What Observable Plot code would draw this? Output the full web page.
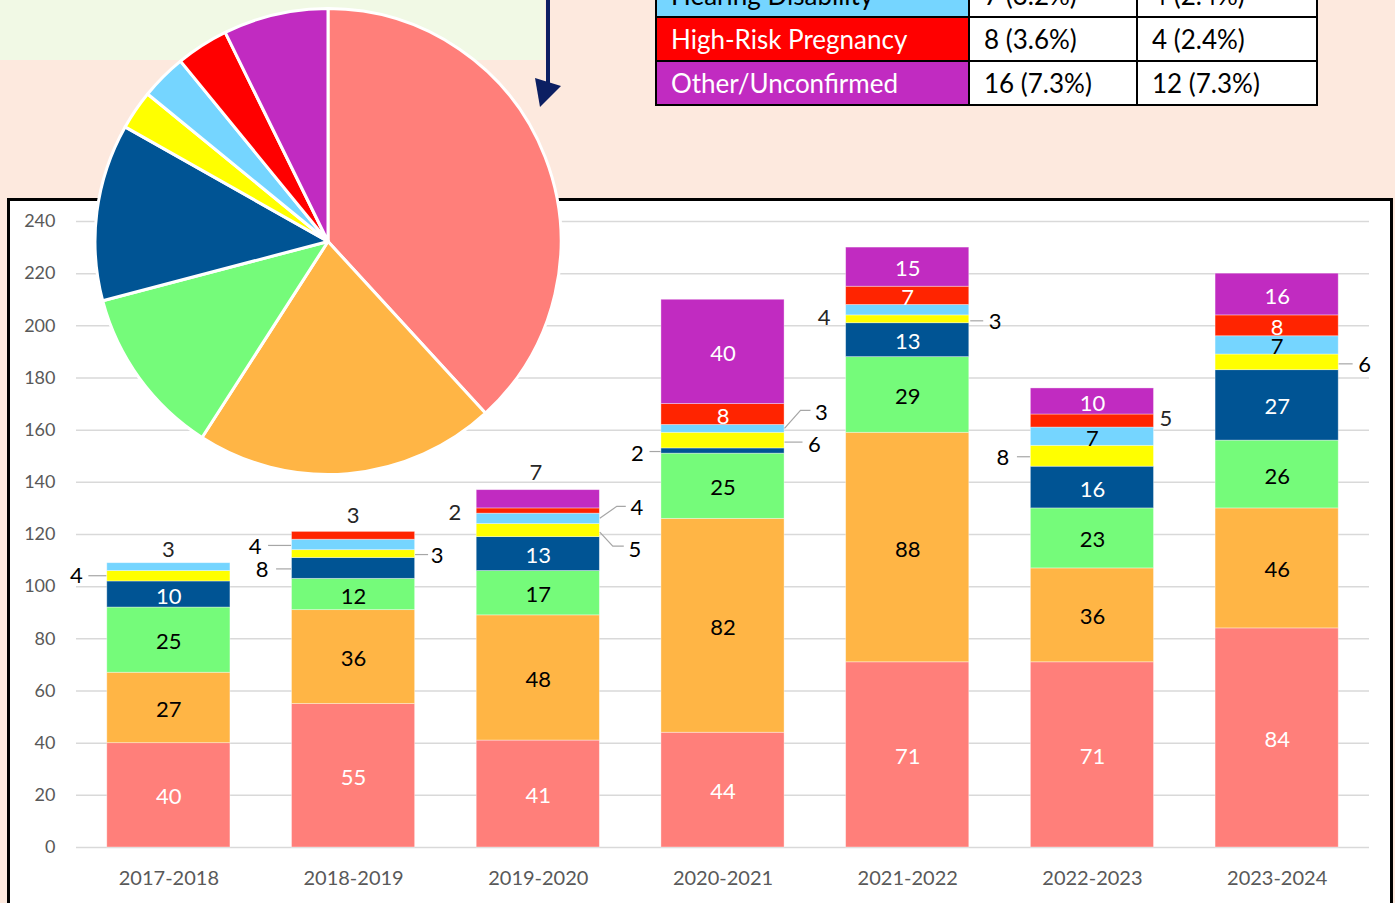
<!DOCTYPE html>
<html><head><meta charset="utf-8">
<script src="https://cdn.jsdelivr.net/npm/d3@7"></script>
<script src="https://cdn.jsdelivr.net/npm/@observablehq/plot@0.6"></script>
<style>
html,body{margin:0;padding:0;}
body{width:1395px;height:903px;overflow:hidden;background:#fde9de;position:relative;font-family:Lato, "Open Sans", sans-serif;}
#green{position:absolute;left:0;top:0;width:545px;height:60px;background:#f1f9e5;}
#box{position:absolute;left:7px;top:198px;width:1386px;height:760px;box-sizing:border-box;border:3px solid #000;background:#fff;}
#chart{position:absolute;left:0;top:0;}
#tbl{position:absolute;left:655px;top:-28px;border-collapse:collapse;font-size:26px;table-layout:fixed;}
#tbl td{border:2px solid #000;height:44px;padding:0 0 0 14px;box-sizing:border-box;white-space:nowrap;background:#fff;color:#000;line-height:40px;}
</style>
</head><body>
<div id="green"></div>
<div id="box"></div>
<div id="chart"></div>
<table id="tbl"></table>
<script>
// ---- data ----
const years = ["2017-2018","2018-2019","2019-2020","2020-2021","2021-2022","2022-2023","2023-2024"];
const seriesNames = ["Series 1","Series 2","Series 3","Series 4","Series 5","Hearing Disability","High-Risk Pregnancy","Other/Unconfirmed"];
const series1 = [40,55,41,44,71,71,84];
const series2 = [27,36,48,82,88,36,46];
const series3 = [25,12,17,25,29,23,26];
const series4 = [10,8,13,2,13,16,27];
const series5 = [4,3,5,6,3,8,6];
const hearing = [3,4,4,3,4,7,7];
const pregnancy = [0,3,2,8,7,5,8];
const other = [0,0,7,40,15,10,16];
const seriesValues = [series1,series2,series3,series4,series5,hearing,pregnancy,other];
const yTicks = [0,20,40,60,80,100,120,140,160,180,200,220,240];
const pieValues = [84,46,26,27,6,7,8,16];
const tableRows = ["Hearing Disability","High-Risk Pregnancy","Other/Unconfirmed"];
const tableCol1 = ["7 (3.2%)","8 (3.6%)","16 (7.3%)"];
const tableCol2 = ["4 (2.4%)","4 (2.4%)","12 (7.3%)"];

// ---- styles ----
const barColors = ["#ff7f7a","#ffb545","#75fb7a","#005494","#ffff00","#75d5ff","#ff2400","#c12bc1"];
const pieColors = ["#ff7f7a","#ffb545","#75fb7a","#005494","#ffff00","#75d5ff","#ff0000","#c12bc1"];
const labelWhite = [true,false,false,true,false,false,true,true];
const tableBg = ["#75d5ff","#ff0000","#c12bc1"];
const tableFg = ["#000","#fff","#fff"];
// outside labels: year index, series index, label offset, leader points (px, relative to bar centre / segment middle)
const callouts = [
  {i:0,k:4,dx:-92,dy:-1,leader:[[-62,0],[-80,0]]},
  {i:0,k:5,dx:0,dy:-18,leader:null},
  {i:1,k:5,dx:-98,dy:1,leader:[[-62,1],[-85,1]]},
  {i:1,k:3,dx:-91,dy:1,leader:[[-62,1],[-77,1]]},
  {i:1,k:4,dx:84,dy:1,leader:[[62,1],[75,1]]},
  {i:1,k:6,dx:0,dy:-21,leader:null},
  {i:2,k:6,dx:-83,dy:1,leader:null},
  {i:2,k:7,dx:-2,dy:-27,leader:null},
  {i:2,k:5,dx:99,dy:-12,leader:[[62,0],[79,-12],[88,-12]]},
  {i:2,k:4,dx:97,dy:18,leader:[[62,2],[75,16],[86,16]]},
  {i:3,k:3,dx:-85,dy:2,leader:[[-62,1],[-73,1]]},
  {i:3,k:4,dx:92,dy:3,leader:[[62,2],[80,2]]},
  {i:3,k:5,dx:99,dy:-17,leader:[[62,0],[78,-18],[88,-18]]},
  {i:4,k:5,dx:-83,dy:7,leader:null},
  {i:4,k:4,dx:88,dy:2,leader:[[63,2],[76,2]]},
  {i:5,k:6,dx:74,dy:-3,leader:null},
  {i:5,k:4,dx:-89,dy:1,leader:[[-62,1],[-75,1]]},
  {i:6,k:4,dx:88,dy:2,leader:[[62,2],[76,2]]}
];

// ---- derived stacked rows ----
const rows = [];
years.forEach((yr,i)=>{
  let acc = 0;
  seriesValues.forEach((vals,k)=>{
    const v = vals[i];
    if (v > 0) rows.push({year:yr,i,k,series:seriesNames[k],value:v,y1:acc,y2:acc+v});
    acc += v;
  });
});
const isCallout = d => callouts.some(c => c.i===d.i && c.k===d.k);
const inside = rows.filter(d => !isCallout(d));

const chart = Plot.plot({
  width:1395, height:903,
  marginLeft:76, marginRight:26, marginTop:221, marginBottom:56,
  style:{background:"transparent", fontFamily:"Lato, sans-serif", overflow:"visible"},
  x:{domain:years, paddingInner:1/3, paddingOuter:1/6, round:false, axis:null},
  y:{domain:[0,240], axis:null},
  color:{domain:seriesNames, range:barColors},
  marks:[
    Plot.gridY(yTicks,{stroke:"#d9d9d9", strokeOpacity:1, strokeWidth:1.5}),
    Plot.barY(rows,{x:"year", y1:"y1", y2:"y2", fill:"series", stroke:"#ffffff", strokeOpacity:0.45, strokeWidth:0.8}),
    Plot.text(inside.filter(d=>labelWhite[d.k]),{x:"year", y:d=>(d.y1+d.y2)/2, dy:2, text:d=>String(d.value), fill:"#fff", fontSize:22}),
    Plot.text(inside.filter(d=>!labelWhite[d.k]),{x:"year", y:d=>(d.y1+d.y2)/2, dy:2, text:d=>String(d.value), fill:"#000", fontSize:22}),
    Plot.axisY(yTicks,{tickSize:0, tickPadding:21, fontSize:18, fill:"#595959", label:null}),
    Plot.axisX({tickSize:0, tickPadding:23, fontSize:20, fill:"#595959", label:null})
  ]
});
document.getElementById("chart").appendChild(chart);

const xs = chart.scale("x"), ys = chart.scale("y");
const svg = d3.select(chart);
const cg = svg.append("g");
callouts.forEach(c=>{
  const d = rows.find(r=>r.i===c.i && r.k===c.k);
  const cx = xs.apply(years[c.i]) + xs.bandwidth/2;
  const cy = ys.apply((d.y1+d.y2)/2);
  if (c.leader) {
    cg.append("path")
      .attr("d", d3.line()(c.leader.map(p=>[cx+p[0], cy+p[1]])))
      .attr("fill","none").attr("stroke","#a6a6a6").attr("stroke-width",1.2);
  }
  cg.append("text").attr("x",cx+c.dx).attr("y",cy+c.dy)
    .attr("text-anchor","middle").attr("dominant-baseline","central")
    .attr("font-size",22).attr("fill", c.leader ? "#000" : "#262626")
    .text(String(d.value));
});

// ---- pie ----
const pie = d3.pie().sort(null).value(d=>d)(pieValues);
const arc = d3.arc().innerRadius(0).outerRadius(233);
const pg = svg.append("g").attr("transform","translate(328,241.5)");
pg.selectAll("path").data(pie).join("path")
  .attr("d",arc).attr("fill",(d,j)=>pieColors[j])
  .attr("stroke","#fff").attr("stroke-width",3).attr("stroke-linejoin","round");

// ---- arrow ----
const ag = svg.append("g");
ag.append("line").attr("x1",548).attr("y1",-2).attr("x2",548).attr("y2",84)
  .attr("stroke","#0c1f62").attr("stroke-width",4);
ag.append("path").attr("d","M535,78 L561,86 L540,107 Z").attr("fill","#0c1f62");

// ---- table ----
const tbl = d3.select("#tbl");
const colW = [313,168,180];
tableRows.forEach((name,j)=>{
  const tr = tbl.append("tr");
  tr.append("td").style("width",colW[0]+"px").style("background",tableBg[j]).style("color",tableFg[j]).text(name);
  tr.append("td").style("width",colW[1]+"px").text(tableCol1[j]);
  tr.append("td").style("width",colW[2]+"px").text(tableCol2[j]);
});
</script>
</body></html>
